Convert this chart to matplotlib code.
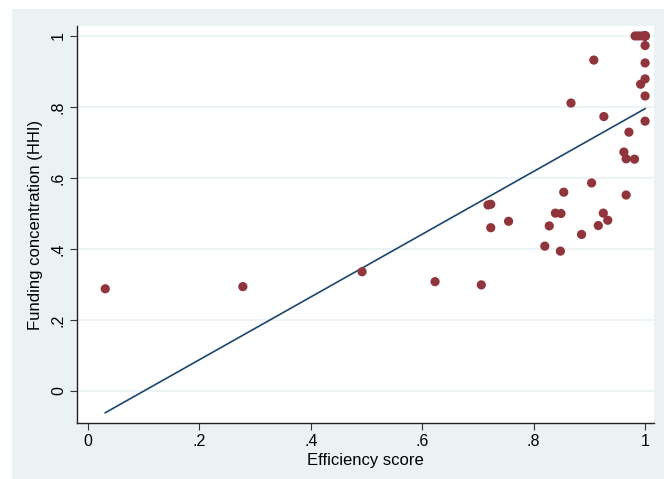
import numpy as np
import matplotlib
matplotlib.use("Agg")
import matplotlib.pyplot as plt
from matplotlib.patches import Rectangle

plt.rcParams['font.family'] = ['Liberation Sans', 'DejaVu Sans']

# efficiency score vs funding concentration (HHI)
# (several fully efficient units sit on top of each other at (1, 1))
efficiency = [0.031, 0.278, 0.492, 0.623, 0.706, 0.718, 0.723, 0.723, 0.755,
              0.820, 0.828, 0.839, 0.849, 0.854, 0.848, 0.886, 0.904, 0.916,
              0.925, 0.933, 0.966, 0.962, 0.966, 0.981, 0.982, 0.988, 0.994,
              1.0, 1.0, 1.0, 1.0, 1.0, 1.0, 1.0,
              1.0, 1.0, 1.0, 0.992, 1.0, 0.908, 0.867, 0.926,
              1.0, 0.971]
hhi = [0.288, 0.294, 0.336, 0.308, 0.299, 0.524, 0.526, 0.460, 0.478,
       0.408, 0.465, 0.501, 0.500, 0.560, 0.394, 0.441, 0.586, 0.466,
       0.501, 0.481, 0.552, 0.673, 0.654, 0.653, 1.000, 1.000, 1.000,
       1.000, 1.000, 1.000, 1.000, 1.000, 1.000, 1.000,
       0.973, 0.924, 0.879, 0.864, 0.831, 0.932, 0.811, 0.773,
       0.760, 0.729]

x_ticks = [0, 0.2, 0.4, 0.6, 0.8, 1]
x_labels = ['0', '.2', '.4', '.6', '.8', '1']
y_ticks = [0, 0.2, 0.4, 0.6, 0.8, 1]
y_labels = ['0', '.2', '.4', '.6', '.8', '1']

bg = '#EAF2F3'
maroon = '#90353B'
navy = '#1A476F'

fig = plt.figure(figsize=(6.64, 4.79), dpi=100)
# stata-like graph region, kept behind the axes
fig.patches.append(Rectangle((12 / 664, 0), 1, 1 - 9 / 479, transform=fig.transFigure,
                             facecolor=bg, edgecolor='none', zorder=-10))
ax = fig.add_axes([77 / 664, 1 - 423 / 479, (654 - 77) / 664, (423 - 26) / 479])
ax.set_facecolor('white')

x = np.array(efficiency)
y = np.array(hhi)
ax.scatter(x, y, s=44, color=maroon, edgecolors='none', zorder=3)

# linear fit
slope, intercept = np.polyfit(x, y, 1)
xs = np.array([x.min(), x.max()])
ax.plot(xs, intercept + slope * xs, color=navy, lw=1.2, zorder=2)

ax.set_xlim(-0.0197, 1.016)
ax.set_ylim(-0.090, 1.028)
ax.set_xticks(x_ticks)
ax.set_xticklabels(x_labels)
ax.set_yticks(y_ticks)
ax.set_yticklabels(y_labels, rotation=90, va='center')
ax.tick_params(direction='out', length=5, width=0.8, color='#333333', labelsize=11.5, pad=3)
ax.grid(axis='y', color=bg, lw=1.2)
ax.set_axisbelow(True)
for side in ['top', 'right']:
    ax.spines[side].set_visible(False)
for side in ['left', 'bottom']:
    ax.spines[side].set_color('#222222')
    ax.spines[side].set_linewidth(1)

ax.set_xlabel('Efficiency score', fontsize=12, labelpad=3)
ax.set_ylabel('Funding concentration (HHI)', fontsize=12, labelpad=6)

fig.savefig('out.png', dpi=100)
